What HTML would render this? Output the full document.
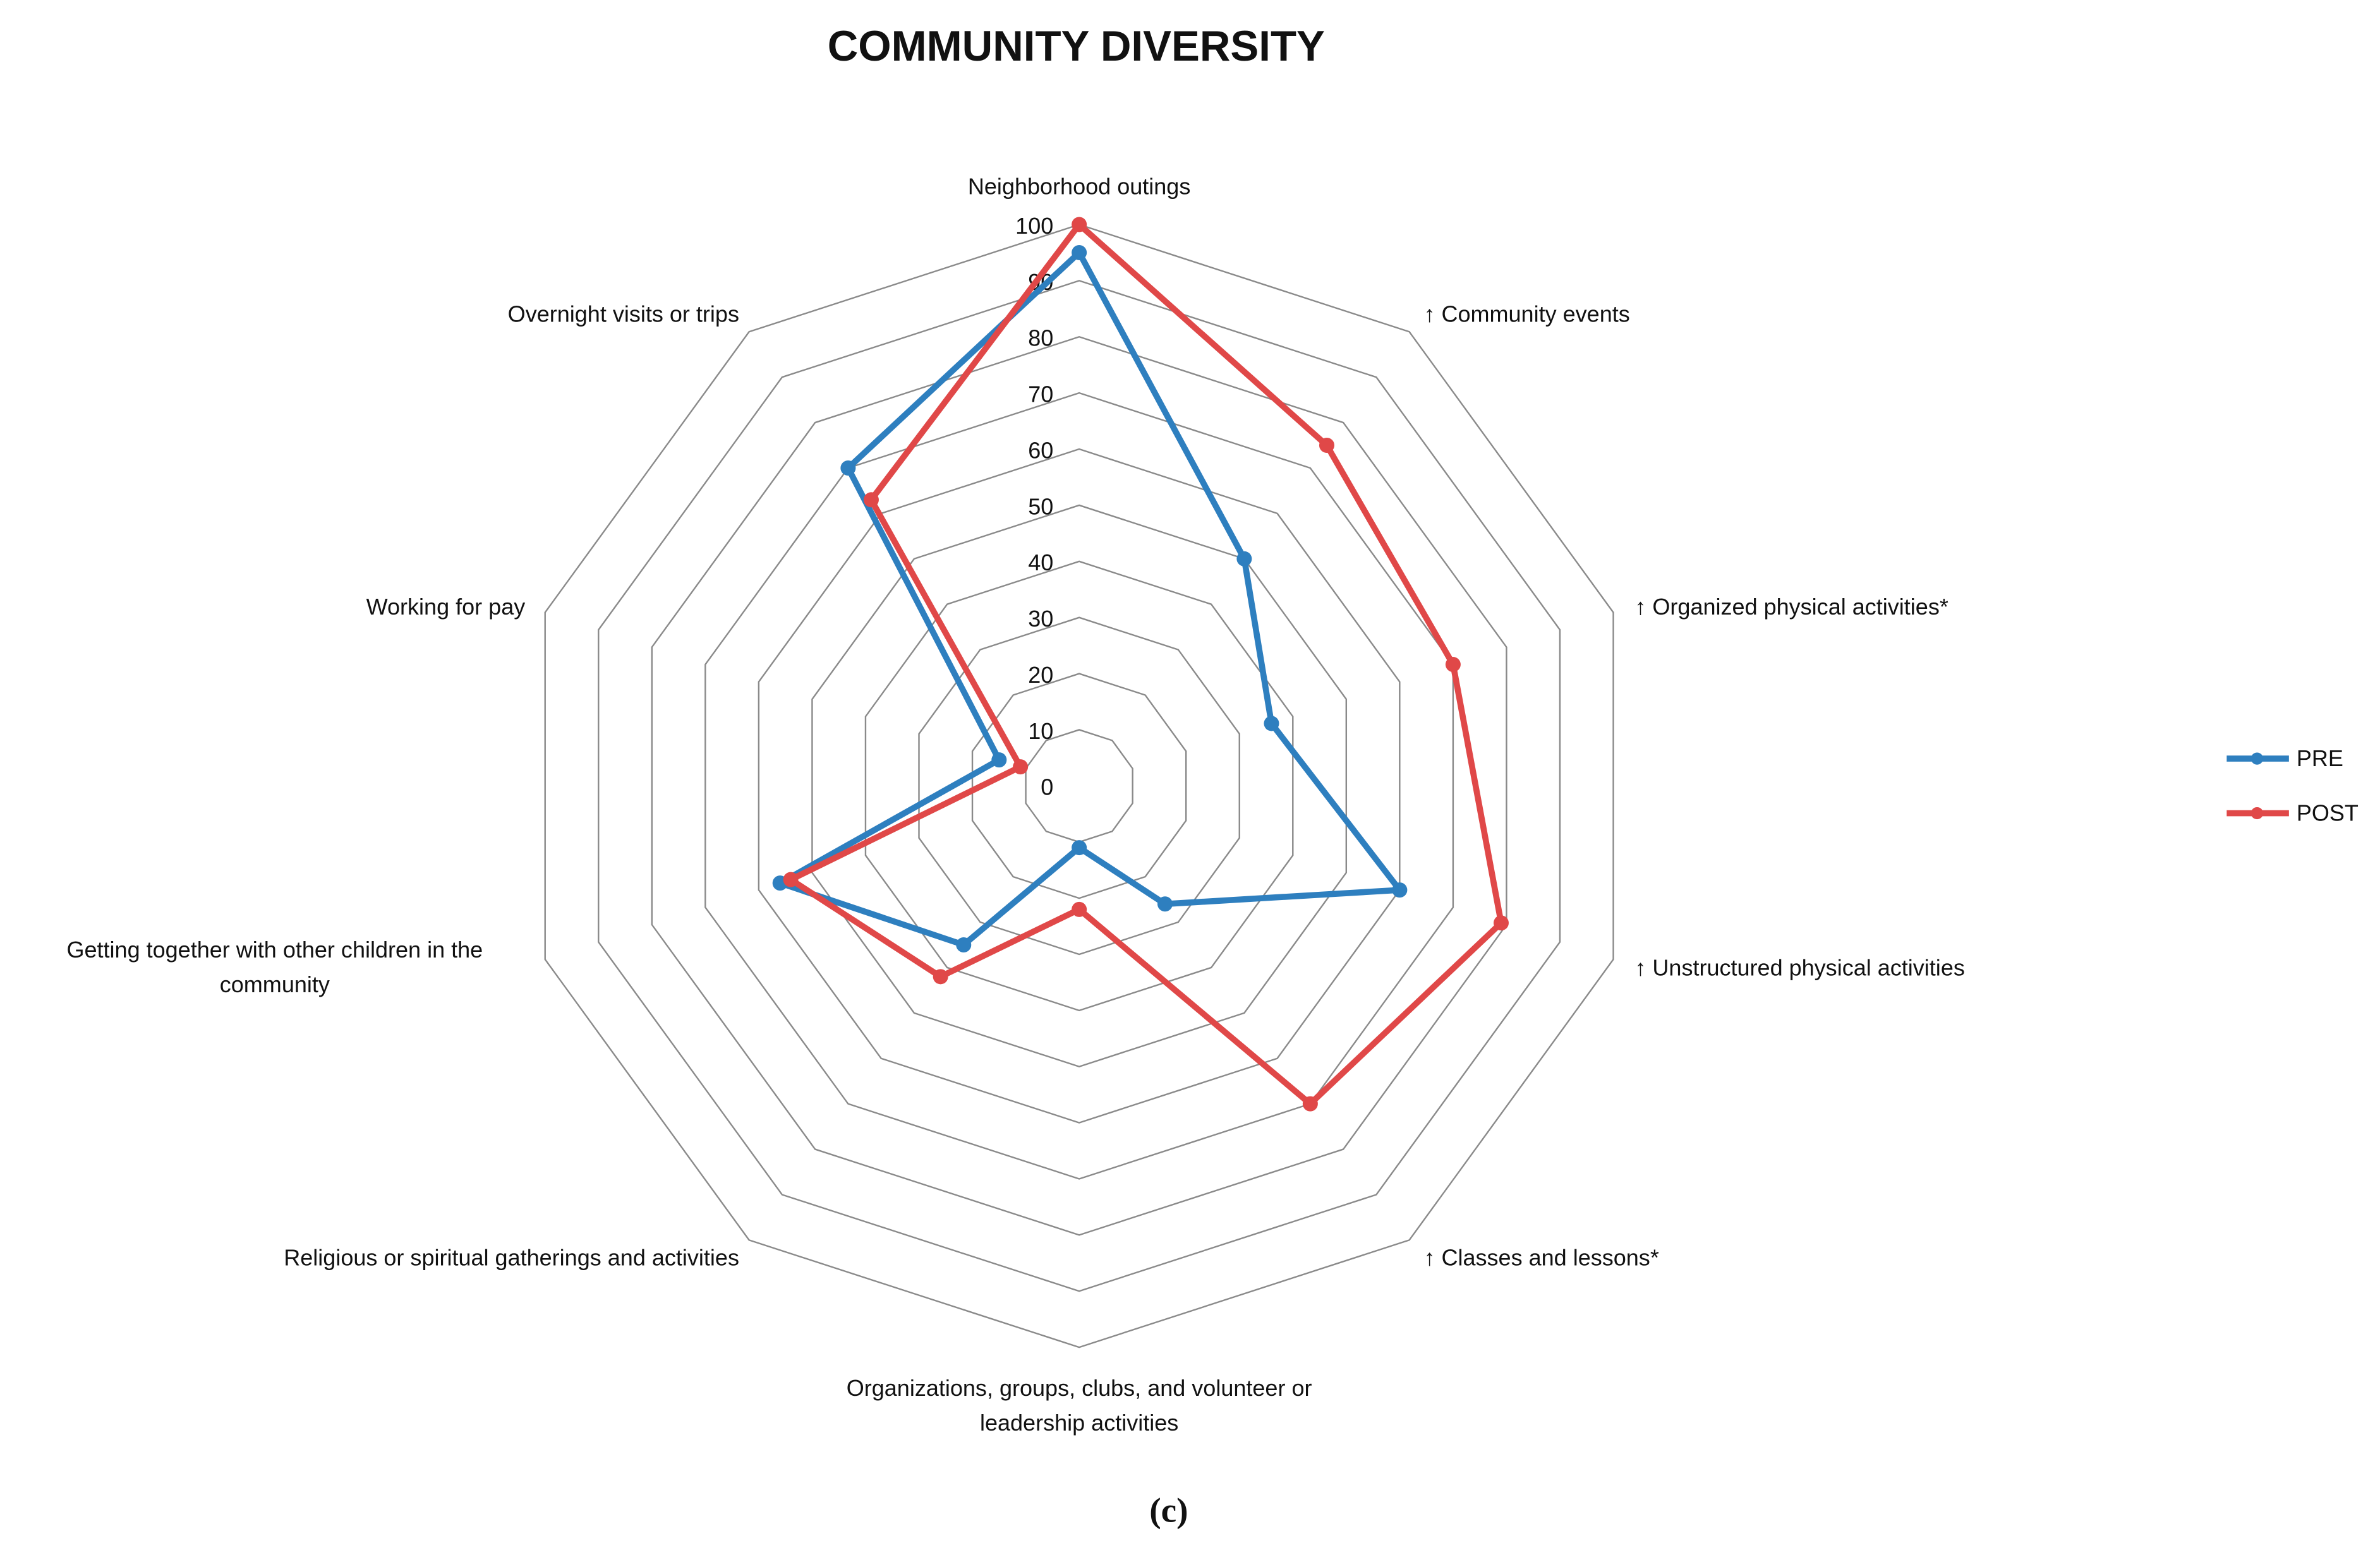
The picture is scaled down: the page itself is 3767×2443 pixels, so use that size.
<!DOCTYPE html>
<html><head><meta charset="utf-8"><style>
html,body{margin:0;padding:0;background:#fff;width:3767px;height:2443px;overflow:hidden}
svg{display:block}
text{font-family:"Liberation Sans","DejaVu Sans",sans-serif;fill:#111}
</style></head><body>
<svg id="chart" width="3767" height="2443" viewBox="0 0 1568 1017" preserveAspectRatio="none" xmlns="http://www.w3.org/2000/svg">
<text x="709" y="40" text-anchor="middle" font-size="28" font-weight="bold">COMMUNITY DIVERSITY</text>
<g id="grid"></g>
<g id="ticks"></g>
<g id="series"></g>
<g id="cats"></g>
<g>
<g>
<line x1="1467" y1="500" x2="1508" y2="500" stroke="#2e7fbf" stroke-width="4"/><circle cx="1487" cy="500" r="4" fill="#2e7fbf"/>
<text x="1513" y="505" font-size="15">PRE</text></g>
<g>
<line x1="1467" y1="536" x2="1508" y2="536" stroke="#e04848" stroke-width="4"/><circle cx="1487" cy="536" r="4" fill="#e04848"/>
<text x="1513" y="541" font-size="15">POST</text></g>
</g>
<text x="770" y="1003" text-anchor="middle" font-size="23" font-weight="bold" style="font-family:'Liberation Serif',serif">(c)</text>
</svg>
<script>
const categories=["Neighborhood outings","↑ Community events","↑ Organized physical activities*","↑ Unstructured physical activities","↑ Classes and lessons*","Organizations, groups, clubs, and volunteer or|leadership activities","Religious or spiritual gatherings and activities","Getting together with other children in the|community","Working for pay","Overnight visits or trips"];
const preValues=[95,50,36,60,26,11,35,56,15,70];
const postValues=[100,75,70,79,70,22,42,54,11,63];
const tickValues=[0,10,20,30,40,50,60,70,80,90,100];
const labelPos=[[711,128,"middle"],[938,212,"start"],[1077,405,"start"],[1077,643,"start"],[938,834,"start"],[711,920,"middle"],[487,834,"end"],[347,631,"end"],[346,405,"end"],[487,212,"end"]];
const NS="http://www.w3.org/2000/svg";
const cx=711,cy=518,R=370,maxV=100;
function pt(i,v){const a=i*2*Math.PI/categories.length;const r=v/maxV*R;return [cx+r*Math.sin(a),cy-r*Math.cos(a)];}
function mk(tag,attrs,parent){const e=document.createElementNS(NS,tag);for(const k in attrs)e.setAttribute(k,attrs[k]);parent.appendChild(e);return e;}
const grid=document.getElementById('grid');
tickValues.forEach(t=>{if(t===0)return;const p=categories.map((c,i)=>pt(i,t).join(',')).join(' ');
const e=mk('polygon',{points:p,fill:'none',stroke:'#8a8a8a','stroke-width':1},grid);

});
const ticks=document.getElementById('ticks');
tickValues.forEach(t=>{const e=mk('text',{x:694,y:cy-t/maxV*R+6,'text-anchor':'end','font-size':15},ticks);e.textContent=t;

});
const cats=document.getElementById('cats');
categories.forEach((c,i)=>{const [x,y,a]=labelPos[i];const e=mk('text',{x:x,y:y,'text-anchor':a,'font-size':15},cats);


c.split('|').forEach((ln,j)=>{const s=mk('tspan',{x:(c.includes('|')&&a==='end')?(i===7?181:x):x,dy:j?23:0,'text-anchor':(c.includes('|')&&i===7)?'middle':a},e);s.textContent=ln;});});
const sg=document.getElementById('series');
[[preValues,'#2e7fbf','pre'],[postValues,'#e04848','post']].forEach(([vals,col,nm])=>{
const p=vals.map((v,i)=>pt(i,v).join(',')).join(' ');
const pl=mk('polygon',{points:p,fill:'none',stroke:col,'stroke-width':4,'stroke-linejoin':'round'},sg);


vals.forEach((v,i)=>{const [x,y]=pt(i,v);const c=mk('circle',{cx:x,cy:y,r:5,fill:col},sg);

});});
</script>
</body></html>
